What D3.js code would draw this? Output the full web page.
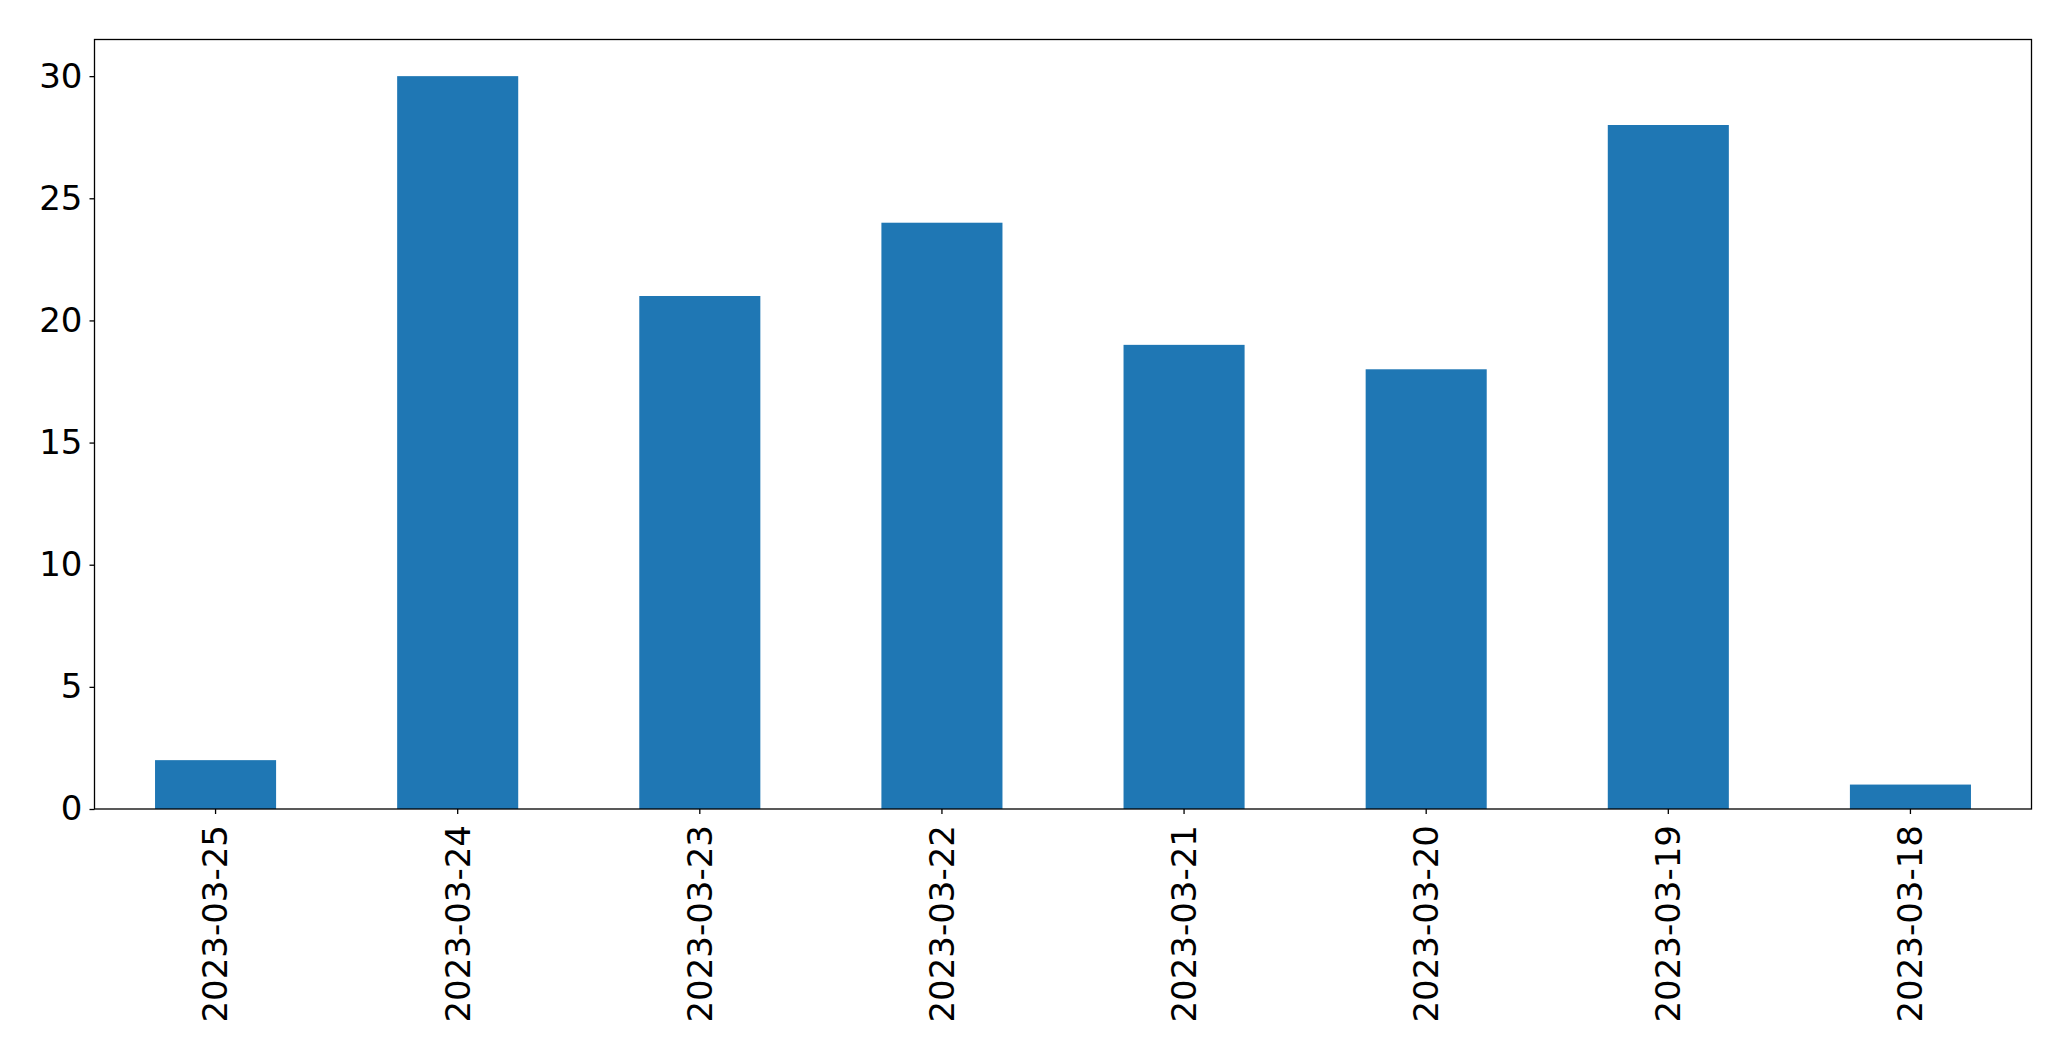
<!DOCTYPE html>
<html><head><meta charset="utf-8">
<script src="https://cdn.jsdelivr.net/npm/d3@7"></script>
<style>body{margin:0;background:#fff}svg text{font-family:"DejaVu Sans",sans-serif}</style>
</head><body>
<svg id="c" width="2071" height="1061"></svg>
<script>
const categories = ["2023-03-25","2023-03-24","2023-03-23","2023-03-22","2023-03-21","2023-03-20","2023-03-19","2023-03-18"];
const values = [2, 30, 21, 24, 19, 18, 28, 1];
const yTicks = [0, 5, 10, 15, 20, 25, 30];

const L = 94.5, R = 2031.5, T = 39.5, B = 809;
const svg = d3.select("#c");
const x = d3.scaleBand().domain(categories).range([L, R]).paddingInner(0.5).paddingOuter(0.25);
const y = d3.scaleLinear().domain([0, 31.5]).range([B, T]);

svg.append("g").selectAll("rect").data(values).join("rect")
  .attr("x", (d,i) => x(categories[i]))
  .attr("width", x.bandwidth())
  .attr("y", d => y(d))
  .attr("height", d => y(0) - y(d))
  .attr("fill", "#1f77b4");

const fs = 34;
const yAx = svg.append("g").attr("transform", `translate(${L},0)`)
  .call(d3.axisLeft(y).tickValues(yTicks).tickSize(5).tickPadding(7));
yAx.select(".domain").remove();
yAx.selectAll("text").attr("font-size", fs).attr("fill", "#000").style("font-family", '"DejaVu Sans"');
yAx.selectAll("line").attr("stroke", "#000").attr("stroke-width", 1.3);

const xAx = svg.append("g").attr("transform", `translate(0,${B})`)
  .call(d3.axisBottom(x).tickSize(5).tickPadding(0));
xAx.select(".domain").remove();
xAx.selectAll("line").attr("stroke", "#000").attr("stroke-width", 1.3);
xAx.selectAll("text").attr("font-size", fs).attr("fill", "#000").style("font-family", '"DejaVu Sans"')
  .attr("transform", "translate(0,16) rotate(-90)")
  .attr("text-anchor", "end").attr("dy", "0.35em").attr("x", 0).attr("y", 0);

svg.append("rect").attr("x", L).attr("y", T).attr("width", R - L).attr("height", B - T)
  .attr("fill", "none").attr("stroke", "#000").attr("stroke-width", 1.3);
</script>
</body></html>
